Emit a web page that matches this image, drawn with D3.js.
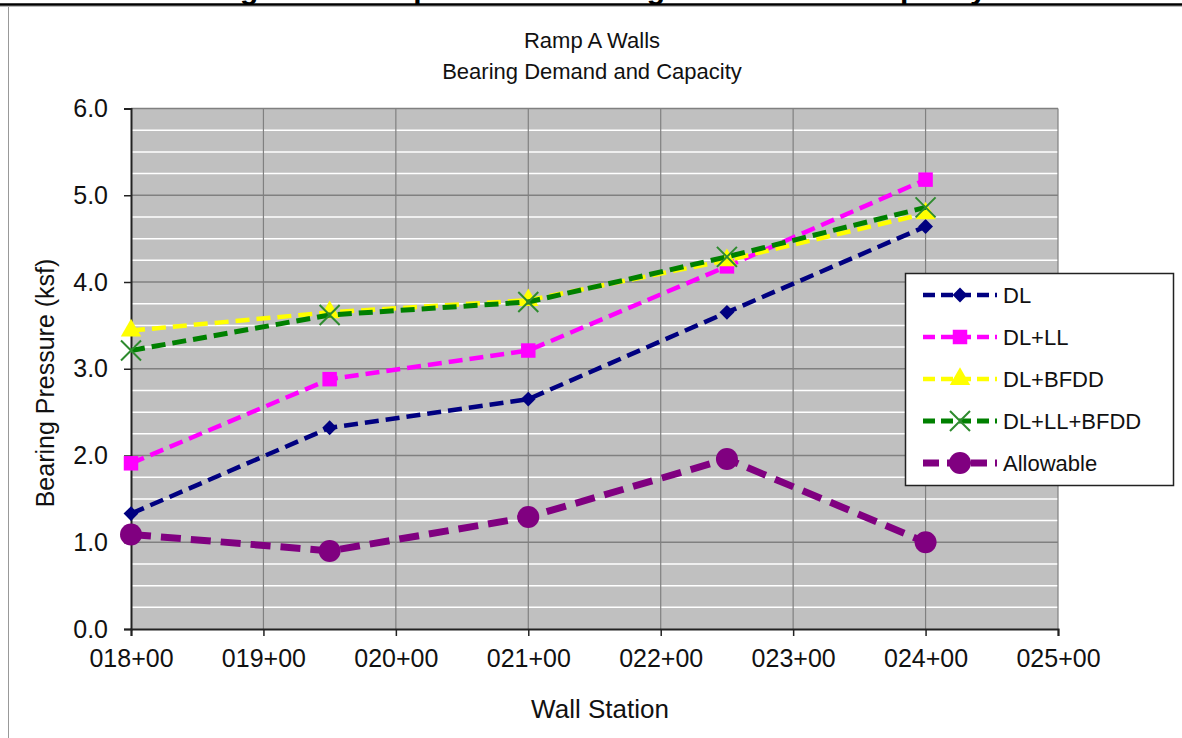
<!DOCTYPE html>
<html>
<head>
<meta charset="utf-8">
<script src="https://cdn.jsdelivr.net/npm/d3@7.9.0/dist/d3.min.js"></script>
<style>
  body { margin: 0; background: #fff; }
  svg { display: block; font-family: "Liberation Sans", Arial, sans-serif; }
</style>
</head>
<body>
<svg id="chart" width="1182" height="738"></svg>
<script>
// stations (hundreds of feet) and bearing pressures (ksf)
const stations = [18, 19.5, 21, 22.5, 24];
const dl = [1.33, 2.32, 2.65, 3.65, 4.64];
const dlLl = [1.91, 2.88, 3.21, 4.18, 5.18];
const dlBfdd = [3.44, 3.65, 3.79, 4.25, 4.79];
const dlLlBfdd = [3.21, 3.62, 3.77, 4.29, 4.86];
const allowable = [1.09, 0.90, 1.29, 1.96, 1.00];

const seriesNames = ['DL', 'DL+LL', 'DL+BFDD', 'DL+LL+BFDD', 'Allowable'];
const xTicks = [18, 19, 20, 21, 22, 23, 24, 25];
const yTicks = [0, 1, 2, 3, 4, 5, 6];

const series = [
  { name: seriesNames[0], values: dl, color: '#000080', width: 4.5, dash: '14 7', marker: 'diamond' },
  { name: seriesNames[1], values: dlLl, color: '#ff00ff', width: 4.5, dash: '14 7', marker: 'square' },
  { name: seriesNames[2], values: dlBfdd, color: '#ffff00', width: 4.5, dash: '14 7', marker: 'triangle' },
  { name: seriesNames[3], values: dlLlBfdd, color: '#008000', width: 5, dash: '14 7', marker: 'x' },
  { name: seriesNames[4], values: allowable, color: '#800080', width: 7, dash: '20 10', marker: 'circle' },
];

const svg = d3.select('#chart');

// cut-off page heading and rule at the very top
svg.append('text')
  .attr('x', 600).attr('y', -1)
  .attr('text-anchor', 'middle')
  .attr('font-weight', 'bold')
  .attr('font-size', 30)
  .text('Figure 6: Ramp A Walls Bearing Demand and Capacity');
svg.append('line').attr('x1', 0).attr('x2', 1182).attr('y1', 4.5).attr('y2', 4.5)
  .attr('stroke', '#000').attr('stroke-width', 2.5);
svg.append('line').attr('x1', 0).attr('x2', 1182).attr('y1', 6.5).attr('y2', 6.5)
  .attr('stroke', '#bbb').attr('stroke-width', 1);
// chart frame left edge
svg.append('line').attr('x1', 8.5).attr('x2', 8.5).attr('y1', 7).attr('y2', 738)
  .attr('stroke', '#999').attr('stroke-width', 1);

const plotL = 131, plotR = 1058, plotT = 108.5, plotB = 629;

const x = d3.scaleLinear().domain([18, 25]).range([plotL, plotR]);
const y = d3.scaleLinear().domain([0, 6]).range([plotB, plotT]);

// plot area
svg.append('rect')
  .attr('x', plotL).attr('y', plotT)
  .attr('width', plotR - plotL).attr('height', plotB - plotT)
  .attr('fill', '#c0c0c0');

// minor gridlines (white)
const minor = d3.range(0.25, 6, 0.25).filter(v => Math.abs(v - Math.round(v)) > 0.01);
svg.append('g').selectAll('line').data(minor).join('line')
  .attr('x1', plotL).attr('x2', plotR)
  .attr('y1', d => y(d)).attr('y2', d => y(d))
  .attr('stroke', '#ffffff').attr('stroke-width', 1.5);

// major gridlines
svg.append('g').selectAll('line').data(yTicks.slice(1)).join('line')
  .attr('x1', plotL).attr('x2', plotR)
  .attr('y1', d => y(d)).attr('y2', d => y(d))
  .attr('stroke', '#808080').attr('stroke-width', 1.5);
svg.append('g').selectAll('line').data(xTicks.slice(1)).join('line')
  .attr('x1', d => x(d)).attr('x2', d => x(d))
  .attr('y1', plotT).attr('y2', plotB)
  .attr('stroke', '#808080').attr('stroke-width', 1.2);

// axes
const yAxis = svg.append('g')
  .attr('transform', `translate(${plotL},0)`)
  .call(d3.axisLeft(y).tickValues(yTicks).tickFormat(d3.format('.1f')).tickSize(7).tickPadding(16));
const xAxis = svg.append('g')
  .attr('transform', `translate(0,${plotB})`)
  .call(d3.axisBottom(x).tickValues(xTicks).tickFormat(d => d3.format('03d')(d) + '+00').tickSize(7).tickPadding(12));
[yAxis, xAxis].forEach(a => {
  a.select('.domain').attr('stroke', '#222').attr('stroke-width', 2);
  a.selectAll('.tick line').attr('stroke', '#222').attr('stroke-width', 1.5);
  a.selectAll('.tick text').attr('font-size', 25).attr('fill', '#111')
    .attr('font-family', '"Liberation Sans", Arial, sans-serif');
});
xAxis.selectAll('.tick text').attr('dy', '0.75em');

// axis titles and chart title
svg.append('text')
  .attr('transform', 'translate(54,383) rotate(-90)')
  .attr('text-anchor', 'middle')
  .attr('font-size', 25).attr('fill', '#111')
  .text('Bearing Pressure (ksf)');
svg.append('text')
  .attr('x', 600).attr('y', 718)
  .attr('text-anchor', 'middle')
  .attr('font-size', 26).attr('fill', '#111')
  .text('Wall Station');
svg.append('text')
  .attr('x', 592).attr('y', 48)
  .attr('text-anchor', 'middle')
  .attr('font-size', 22).attr('fill', '#111')
  .text('Ramp A Walls');
svg.append('text')
  .attr('x', 592).attr('y', 79)
  .attr('text-anchor', 'middle')
  .attr('font-size', 22).attr('fill', '#111')
  .text('Bearing Demand and Capacity');

function drawMarker(g, s, cx, cy) {
  if (s.marker === 'x') {
    g.append('path')
      .attr('d', `M${cx - 10},${cy - 10}L${cx + 10},${cy + 10}M${cx + 10},${cy - 10}L${cx - 10},${cy + 10}`)
      .attr('stroke', '#2e8b2e').attr('stroke-width', 2).attr('fill', 'none');
  } else if (s.marker === 'circle') {
    g.append('circle').attr('cx', cx).attr('cy', cy).attr('r', 11).attr('fill', s.color);
  } else if (s.marker === 'diamond') {
    g.append('path')
      .attr('d', d3.symbol().type(d3.symbolSquare).size(110)())
      .attr('transform', `translate(${cx},${cy}) rotate(45)`)
      .attr('fill', s.color);
  } else {
    const type = s.marker === 'square' ? d3.symbolSquare : d3.symbolTriangle;
    const size = s.marker === 'square' ? 210 : 180;
    g.append('path')
      .attr('d', d3.symbol().type(type).size(size)())
      .attr('transform', `translate(${cx},${cy})`)
      .attr('fill', s.color);
  }
}

const line = d3.line().x(d => x(d[0])).y(d => y(d[1]));

series.forEach(s => {
  const g = svg.append('g');
  const pts = stations.map((st, i) => [st, s.values[i]]);
  g.append('path')
    .attr('d', line(pts))
    .attr('fill', 'none')
    .attr('stroke', s.color)
    .attr('stroke-width', s.width)
    .attr('stroke-dasharray', s.dash);
  pts.forEach(p => drawMarker(g, s, x(p[0]), y(p[1])));
});

// legend
const legend = svg.append('g');
legend.append('rect')
  .attr('x', 905.5).attr('y', 273.5).attr('width', 268).attr('height', 212)
  .attr('fill', '#fff').attr('stroke', '#222').attr('stroke-width', 1.5);
const ly = d3.scalePoint().domain(seriesNames).range([295, 463]);
series.forEach(s => {
  const cy = ly(s.name);
  legend.append('line')
    .attr('x1', 923).attr('x2', 997).attr('y1', cy).attr('y2', cy)
    .attr('stroke', s.color).attr('stroke-width', s.width)
    .attr('stroke-dasharray', s.marker === 'circle' ? '16 8' : '12 6');
  drawMarker(legend, s, 960, cy);
  legend.append('text')
    .attr('x', 1003).attr('y', cy).attr('dy', '0.36em')
    .attr('font-size', 22).attr('fill', '#111')
    .text(s.name);
});
</script>
</body>
</html>
